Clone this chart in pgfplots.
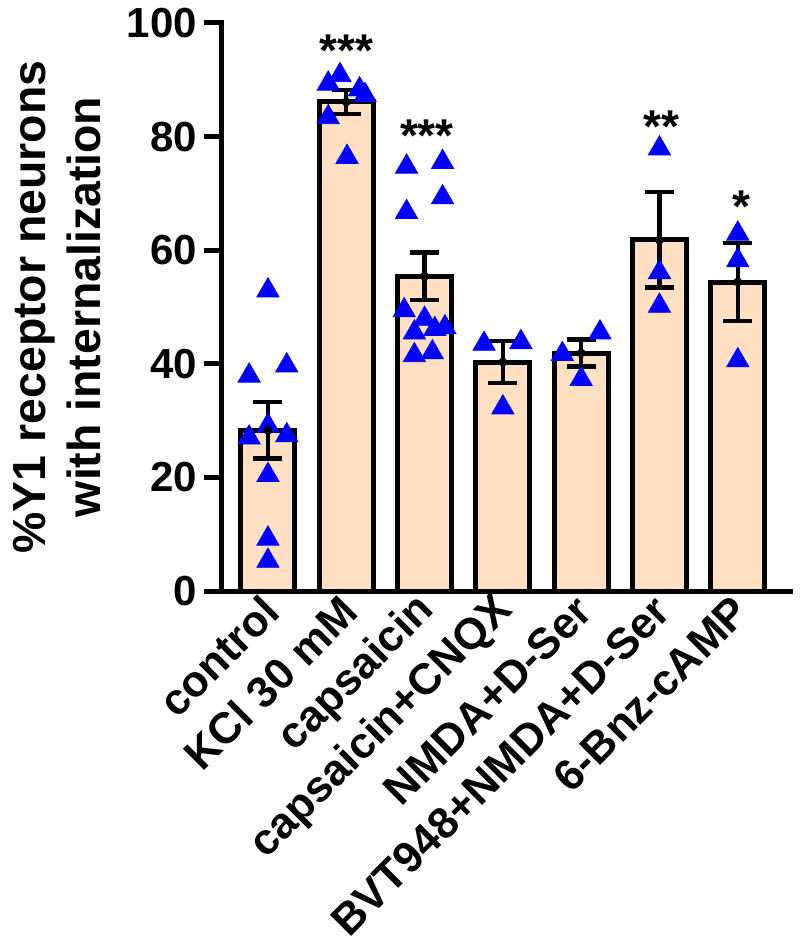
\documentclass[border=0pt]{standalone}
\usepackage{fontspec}
\setmainfont{Liberation Sans}
\usepackage{pgfplots}
\pgfplotsset{compat=1.18}
\usepackage{pgfplotstable}
\definecolor{peach}{RGB}{255,224,194}
\definecolor{triblue}{RGB}{0,0,255}

\pgfplotstableread{
x y e
0 28.3 5.0
1 86.1 2.1
2 55.4 4.2
3 40.3 3.7
4 41.9 2.4
5 61.8 8.4
6 54.4 6.9
}\bars

\pgfplotstableread{
x y
0 52.9
-0.24 37.9
0.24 39.7
0 29.1
-0.24 27.0
0.24 27.4
0 20.4
0 9.2
0 5.3
0.77 89.3
0.92 90.8
1.24 87.3
1.17 88.3
0.77 83.4
1.01 76.4
1.77 74.7
2.23 75.5
1.77 66.7
2.23 69.3
1.74 49.4
2.0 47.9
1.87 45.5
2.13 46.1
2.26 46.4
1.87 41.5
2.10 42.0
2.76 43.5
3.23 43.8
3.0 32.3
3.76 41.7
4.24 45.5
4.0 37.3
5 77.9
5 56.1
5 50.2
6 62.9
6 58.2
6 40.6
}\points

\pgfplotstableread{
x y lab
1 92.4 ***
2.03 77.4 ***
5.03 79.0 **
6.05 64.9 *
}\stars

\begin{document}
\begin{tikzpicture}
\useasboundingbox (-111pt,-178pt) rectangle (289pt,295.5pt);
\begin{axis}[
  scale only axis,
  width=284pt, height=284pt,
  xmin=-0.587, xmax=6.667,
  ymin=0, ymax=100,
  axis x line=bottom, axis y line=left,
  axis line style={-, line width=2.5pt, line cap=rect},
  ytick={0,20,40,60,80,100},
  xtick={0,1,2,3,4,5,6},
  xticklabels={control, KCl 30 mM, capsaicin, capsaicin+CNQX, NMDA+D-Ser, BVT948+NMDA+D-Ser, 6-Bnz-cAMP},
  tick align=outside,
  major tick length=9pt,
  ytick style={line width=2.5pt, black},
  xtick style={draw=none},
  /pgf/number format/assume math mode=true,
  yticklabel style={font=\bfseries\fontsize{21}{25}\selectfont},
  xticklabel style={font=\bfseries\fontsize{21.8}{26}\selectfont, xshift=3pt, yshift=4pt, rotate=45, anchor=east, inner sep=2pt},
  ylabel={\%Y1 receptor neurons\\with internalization},
  ylabel style={at={(axis description cs:-0.29,0.5)}, anchor=center, align=center, font=\bfseries\fontsize{23.2}{27.5}\selectfont},
  clip=false,
]
\addplot[ybar, bar width=0.69, fill=peach, draw=black, line width=2.5pt] table[x=x, y=y] {\bars};
\addplot[only marks, mark=triangle*, mark size=6.4pt, mark options={fill=triblue, draw=triblue, line width=0.4pt}] table[x=x, y=y] {\points};
\addplot[only marks, mark=none, error bars/.cd, y dir=both, y explicit,
  error bar style={line width=2.2pt, black},
  error mark options={rotate=90, mark size=7.25pt, line width=2.2pt, black}] table[x=x, y=y, y error=e] {\bars};
\addplot[only marks, mark=none, nodes near coords, point meta=explicit symbolic,
  every node near coord/.style={anchor=base, inner sep=0pt, font=\bfseries\fontsize{23}{27}\selectfont, black}] table[x=x, y=y, meta=lab] {\stars};
\end{axis}
\end{tikzpicture}
\end{document}
